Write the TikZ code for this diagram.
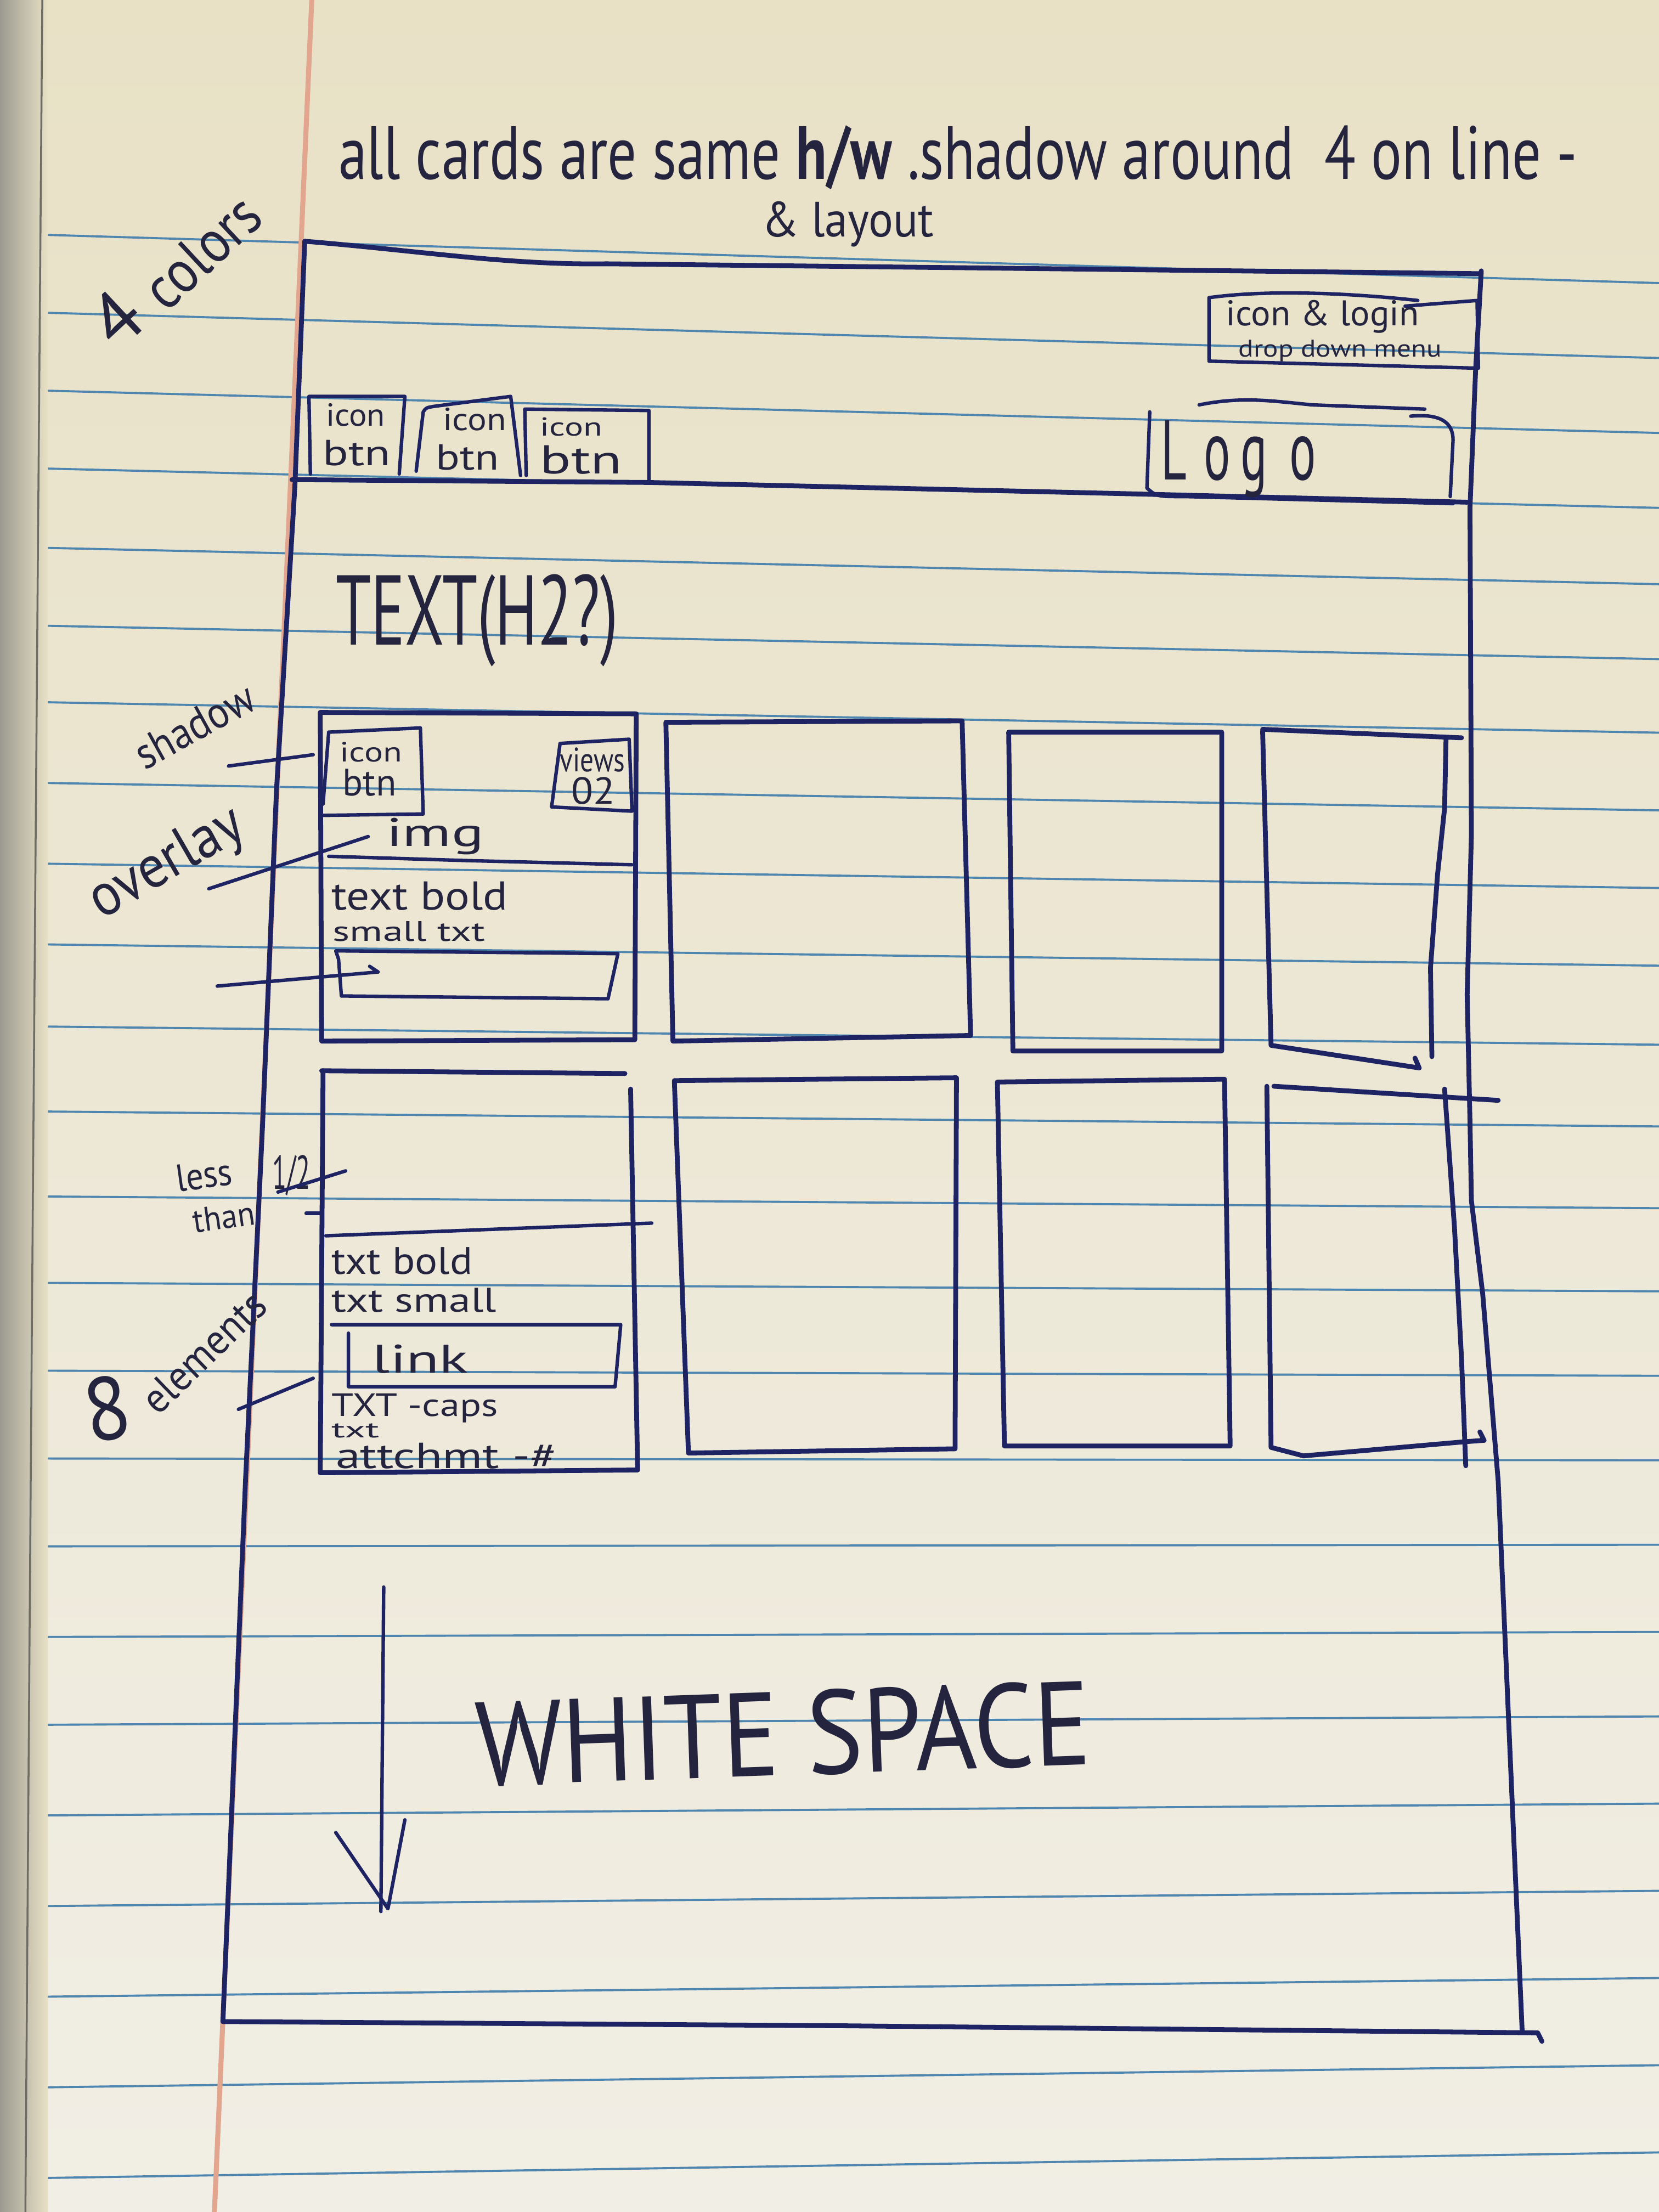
\documentclass[tikz,border=0pt]{standalone}
\usepackage{fontspec}
\usepackage{graphicx}
\setmainfont{PT Sans}
\newfontfamily\hand{PT Sans}

\definecolor{paperTop}{HTML}{E8E1C6}
\definecolor{paperBot}{HTML}{F1EEE5}
\definecolor{edgeGrey}{HTML}{9C9A90}
\definecolor{rule}{HTML}{4F86B0}
\definecolor{marginRed}{HTML}{E2A58E}
\definecolor{ink}{HTML}{1E2463}
\definecolor{lead}{HTML}{24243E}

% one sketch pixel
\newlength\px
\setlength\px{0.025714cm}
% handwritten word squeezed into a given width and height
\newcommand\hw[3]{\resizebox{#1\px}{#2\px}{\hand #3}}

\tikzset{
  ink line/.style={draw=ink, line width=2.5pt, line cap=round, line join=round},
  fine line/.style={draw=ink, line width=1.8pt, line cap=round, line join=round},
  scrawl/.style={inner sep=0pt, outer sep=0pt, text=lead, anchor=base west},
  ruling/.style={draw=rule, line width=1.1pt},
}

\begin{document}
\begin{tikzpicture}[x=0.025714cm, y=-0.025714cm]
\useasboundingbox (0,0) rectangle (1176,1568);

% ---- notebook sheet ----
\shade[top color=paperTop, bottom color=paperBot] (0,0) rectangle (1176,1568);
\shade[left color=edgeGrey, right color=paperTop] (0,0) rectangle (34,1568);
\draw[edgeGrey!70!black, line width=1pt] (30,0) .. controls (26,500) and (22,1000) .. (18,1568);
\foreach \y in {170,225,280,335,391,446,500,557,614,671,729,789,849,910,972,1034,1096,1160,1222,1286,1350,1414,1478,1542} {
  \pgfmathsetmacro\yl{\y-0.129*(32-0.03*\y)}
  \pgfmathsetmacro\yr{\y+1.14*(32-0.03*\y)}
  \draw[ruling] (34,\yl) -- (1176,\yr);
}
\draw[marginRed, line width=2.6pt] (221,0) -- (152,1568);

% ---- notes above the page ----
\node[scrawl] (title) at (240,127) {\hw{878}{38}{all cards are same \textbf{h/w} .shadow around\ \ 4 on line -}};
\node[scrawl] (subtitle) at (540,168) {\hw{122}{25}{\& layout}};
\node[scrawl, rotate=43] (four) at (84,250) {\hw{30}{38}{4}};
\node[scrawl, rotate=43] (colors) at (118,222) {\hw{96}{30}{colors}};

% ---- page frame ----
\draw[ink line] (216,171) .. controls (300,178) and (360,188) .. (430,187) -- (700,190) -- (1050,194);
\draw[ink line] (1050,192) -- (1046,262) -- (1042,360) -- (1043,592) -- (1040,705) -- (1042,795) -- (1043,851) -- (1051,917) -- (1062,1050) -- (1079,1440);
\draw[ink line] (216,171) -- (209,345) -- (196,560) -- (186,800) -- (174,1050) -- (158,1433);
\draw[ink line] (158,1433) -- (600,1436) -- (1090,1441) -- (1093,1447);

% ---- header ----
\draw[ink line] (207,340) -- (460,342) -- (800,350) -- (1040,356);

\draw[fine line] (220,336) -- (219,281) -- (287,281) -- (283,336);
\draw[fine line] (295,334) -- (300,292) .. controls (302,289) .. (308,288) -- (362,281) -- (369,337);
\draw[fine line] (373,337) -- (372,290) -- (460,291) -- (460,341);
\node[scrawl] (iconA) at (231,302) {\hw{42}{16}{icon}};
\node[scrawl] (btnA)  at (229,330) {\hw{48}{18}{btn}};
\node[scrawl] (iconB) at (314,305) {\hw{45}{16}{icon}};
\node[scrawl] (btnB)  at (309,333) {\hw{45}{18}{btn}};
\node[scrawl] (iconC) at (383,309) {\hw{44}{13}{icon}};
\node[scrawl] (btnC)  at (383,336) {\hw{58}{20}{btn}};

\draw[fine line] (857,255) -- (857,211) .. controls (900,205) and (960,208) .. (1005,213);
\draw[fine line] (996,217) -- (1047,213) -- (1048,261) -- (857,256);
\node[scrawl] (iconLogin) at (869,231) {\hw{137}{18}{icon \& login}};
\node[scrawl] (dropMenu)  at (878,253) {\hw{144}{12}{drop down menu}};

\draw[fine line] (850,287) .. controls (880,281) and (900,284) .. (930,287) -- (1010,290);
\draw[fine line] (815,292) -- (813,346) .. controls (820,352) .. (840,352) -- (1030,357);
\draw[fine line] (1000,295) .. controls (1022,293) and (1030,300) .. (1030,312) -- (1028,352);
\node[scrawl] (logo) at (823,340) {\hw{110}{42}{L\hspace{0.35em}o\hspace{0.2em}g\hspace{0.45em}o}};

% ---- section heading ----
\node[scrawl] (heading) at (238,457) {\hw{200}{50}{TEXT(H2?)}};

% ---- card row one ----
\draw[ink line] (227,505) -- (451,506) -- (450,737) -- (228,738) -- cycle;
\draw[fine line] (233,519) -- (298,516) -- (300,577) -- (228,578);
\draw[fine line] (233,519) -- (229,570);
\draw[fine line] (397,527) -- (446,524) -- (448,575) -- (391,572) -- cycle;
\draw[fine line] (233,607) -- (330,610) -- (448,613);
\draw[fine line] (240,680) -- (238,674) -- (438,676) -- (431,708) -- (242,706) -- (240,680);
\node[scrawl] (cardIcon)  at (241,540) {\hw{44}{14}{icon}};
\node[scrawl] (cardBtn)   at (243,564) {\hw{38}{19}{btn}};
\node[scrawl] (views)     at (397,547) {\hw{46}{17}{views}};
\node[scrawl] (viewCount) at (405,570) {\hw{31}{19}{02}};
\node[scrawl] (img)       at (274,600) {\hw{69}{20}{img}};
\node[scrawl] (boldA)     at (235,645) {\hw{125}{20}{text bold}};
\node[scrawl] (smallA)    at (236,667) {\hw{108}{14}{small txt}};

\draw[ink line] (472,512) -- (682,511) -- (688,734) -- (477,738) -- cycle;
\draw[ink line] (715,519) -- (866,519) -- (866,745) -- (718,745) -- cycle;
\draw[ink line] (895,517) -- (1036,523);
\draw[ink line] (895,518) -- (898,630) -- (901,741) -- (1006,757) -- (1003,750);
\draw[ink line] (1025,524) -- (1024,573) -- (1019,620) -- (1014,686) -- (1015,749);

% ---- card row two ----
\draw[ink line] (228,759) -- (443,761);
\draw[ink line] (229,759) -- (227,1044) -- (452,1042) -- (447,772);
\draw[fine line] (231,876) -- (462,867);
\draw[fine line] (235,939) -- (440,939) -- (436,983) -- (247,983) -- (247,945);
\node[scrawl] (boldB)   at (235,903)  {\hw{100}{19}{txt bold}};
\node[scrawl] (smallB)  at (235,930)  {\hw{117}{17}{txt small}};
\node[scrawl] (link)    at (264,973)  {\hw{68}{20}{link}};
\node[scrawl] (caps)    at (235,1004) {\hw{118}{16}{TXT -caps}};
\node[scrawl] (txt)     at (235,1019) {\hw{34}{10}{txt}};
\node[scrawl] (attach)  at (238,1041) {\hw{157}{18}{attchmt -\#}};

\draw[ink line] (478,766) -- (678,764) -- (677,1027) -- (488,1030) -- cycle;
\draw[ink line] (707,767) -- (868,765) -- (872,1025) -- (712,1025) -- cycle;
\draw[ink line] (903,770) -- (1062,780);
\draw[ink line] (898,770) -- (901,1026) -- (924,1032) -- (1038,1022) -- (1052,1021) -- (1049,1015);
\draw[ink line] (1024,772) -- (1031,870) -- (1036,963) -- (1039,1039);

% ---- margin notes and their pointers ----
\node[scrawl, rotate=29] (shadow)  at (103,546) {\hw{92}{22}{shadow}};
\node[scrawl, rotate=30] (overlay) at (72,652)  {\hw{120}{30}{overlay}};
\node[scrawl, rotate=8]  (less)    at (126,845) {\hw{40}{19}{less}};
\node[scrawl, rotate=8]  (than)    at (138,874) {\hw{44}{17}{than}};
\node[scrawl]            (half)    at (193,843) {\hw{27}{24}{1/2}};
\node[scrawl, rotate=10] (eight)   at (64,1023) {\hw{32}{45}{8}};
\node[scrawl, rotate=44] (elements) at (112,1004) {\hw{110}{21}{elements}};

\draw[fine line] (162,543) -- (222,535);
\draw[fine line] (148,630) -- (261,593);
\draw[fine line] (154,699) -- (268,689) -- (262,685);
\draw[fine line] (197,845) -- (245,830);
\draw[fine line] (217,860) -- (227,860);
\draw[fine line] (169,999) -- (222,977);

% ---- empty area below the cards ----
\draw[fine line] (272,1125) -- (270,1355);
\draw[fine line] (238,1299) -- (275,1353) -- (287,1290);
\node[scrawl, rotate=2] (whitespace) at (338,1266) {\hw{436}{60}{WHITE SPACE}};
\end{tikzpicture}
\end{document}
